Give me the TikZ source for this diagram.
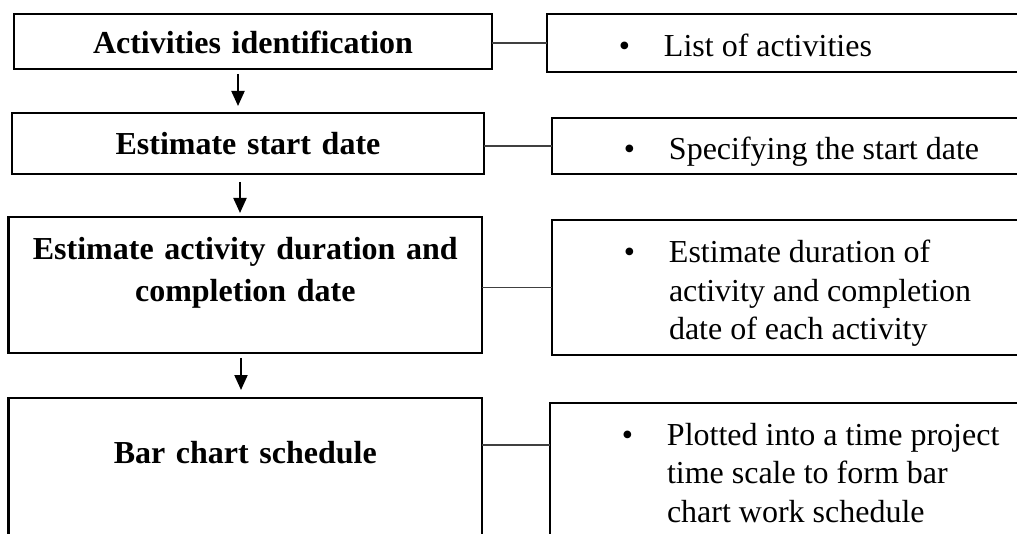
\documentclass[tikz,border=0pt]{standalone}
\usepackage{fontspec}
\setmainfont{Liberation Serif}
\usetikzlibrary{arrows.meta}
\tikzset{
    stepbox/.style = {rectangle, draw=black, line width=2.6pt, inner sep=0pt, outer sep=0pt, anchor=north west, align=center, font=\fontsize{32}{42.4}\selectfont\bfseries},
    notebox/.style = {rectangle, draw=black, line width=2.6pt, inner sep=0pt, outer sep=0pt, anchor=north west, font=\fontsize{32}{38.5}\selectfont},
    link/.style = {line width=1.3pt, draw=black!75},
    flow/.style = {-{Triangle[length=15pt,width=13pt]}, line width=2pt},
}
% bullet in its own column, text hanging at 117pt
\newcommand{\itemnote}[1]{\makebox[117pt][r]{\textbullet\hspace{34pt}}\parbox[t]{373pt}{\raggedright #1}}

\begin{document}
\begin{tikzpicture}[x=1pt,y=-1pt]
\useasboundingbox (0,0) rectangle (1017,534);
%
\node[stepbox, text width=478pt, text height=39.3pt, text depth=15.7pt] at (14,14) (b1) {Activities identification};
\node[stepbox, text width=472pt, text height=42pt, text depth=19pt] at (12,113) (b2) {Estimate start date};
\node[stepbox, text width=473.4pt, text height=42.3pt, text depth=93.7pt] at (8.6,217) (b3) {Estimate activity duration and\\completion date};
\node[stepbox, text width=473.4pt, text height=65pt, text depth=107pt] at (8.6,398) (b4) {Bar chart schedule};
%
\node[notebox, text height=43pt, text depth=15pt] at (547,14) (r1) {\itemnote{List of activities}};
\node[notebox, text height=42pt, text depth=14pt] at (552,118) (r2) {\itemnote{Specifying the start date}};
\node[notebox, text height=43pt, text depth=92pt] at (552,220) (r3) {\itemnote{Estimate duration of\\activity and completion\\date of each activity}};
\node[notebox, text height=42pt, text depth=130pt] at (550,403) (r4) {\itemnote{Plotted into a time project\\time scale to form bar\\chart work schedule}};
%
\draw[link] (b1.east |- r1.west) -- (r1.west);
\draw[link] (b2.east |- r2.west) -- (r2.west);
\draw[link] (b3.east |- r3.west) -- (r3.west);
\draw[link] (b4.east |- r4.base west) -- (r4.base west);
%
\draw[flow] ([xshift=224pt,yshift=-5pt]b1.south west) -- ([xshift=226pt,yshift=7pt]b2.north west);
\draw[flow] ([xshift=228pt,yshift=-8pt]b2.south west) -- ([xshift=231.4pt,yshift=4pt]b3.north west);
\draw[flow] ([xshift=232.4pt,yshift=-5pt]b3.south west) -- ([xshift=232.4pt,yshift=8pt]b4.north west);

\end{tikzpicture}
\end{document}
